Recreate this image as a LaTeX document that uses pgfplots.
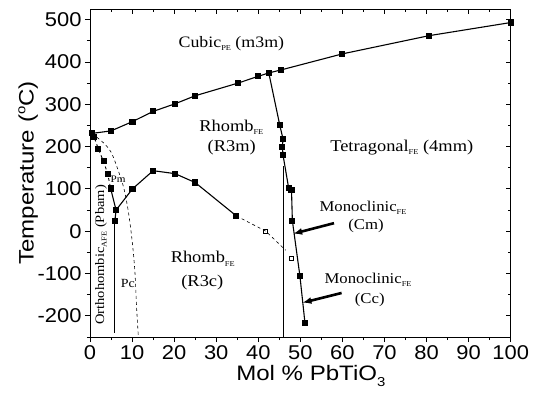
\documentclass[border=0pt]{standalone}
\usepackage{fontspec}
\setmainfont{Liberation Serif}[FakeStretch=1.12]
\newfontfamily\axfont[FakeStretch=1.1]{Liberation Sans}
\newfontfamily\labfont[FakeStretch=1.15]{Liberation Sans}
\usepackage{pgfplots}
\pgfplotsset{compat=1.18}
\usetikzlibrary{arrows.meta}
\newcommand{\sub}[1]{\raisebox{-0.45ex}{\fontsize{7.5}{7.5}\selectfont #1}}
\newcommand{\lab}[1]{\fontsize{#1}{#1}\selectfont}
\begin{document}
\begin{tikzpicture}
\pgfplotsset{
  common/.style={
    width=420.7bp, height=328bp, scale only axis,
    xmin=0, xmax=100, ymin=-250, ymax=525,
    xtick={0,10,...,100}, ytick={-200,-100,...,500},
    minor xtick={5,15,...,95}, minor ytick={-250,-150,...,450},
    major tick length=5bp, minor tick length=3bp,
    axis line style={line width=0.8bp},
    every tick/.style={black, line width=0.8bp},
    tick label style={font=\axfont\fontsize{20}{20}\selectfont},
    /pgf/number format/assume math mode=true,
  }
}
\begin{axis}[common, xtick pos=left, ytick pos=left, tick align=outside,
  clip=false,
  xlabel={\labfont\fontsize{21}{21}\selectfont Mol \% PbTiO\raisebox{-0.55ex}{\fontsize{13}{13}\selectfont 3}},
  xlabel style={at={(axis description cs:0.525,0)}, anchor=base, yshift=-43bp},
  ylabel={\labfont\fontsize{21}{21}\selectfont Temperature (\raisebox{0.75ex}{\fontsize{13}{13}\selectfont o}C)},
  ylabel style={at={(axis description cs:-0.147,0.5)}, anchor=center, rotate=0},
]
% Cubic boundary
\addplot[black, line width=1.1bp, mark=square*, mark size=2.5bp] coordinates {
 (0.4,231) (5,237) (10.1,259) (15,283) (20.2,301) (25,320) (35.2,350) (40,366) (42.5,374) (45.4,381) (60,419) (80.6,462) (100,493)};
% descending dashed series
\addplot[black, line width=0.9bp, dashed, mark=square*, mark size=2.5bp, mark options={solid}] coordinates {
 (0.4,231) (1,222) (2,194) (3.2,165) (4.2,136) (4.9,101)};
\addplot[black, line width=1.1bp, mark=square*, mark size=2.5bp] coordinates {
 (4.9,101) (6.2,50) (5.9,24)};
\addplot[black, line width=0.9bp] coordinates {(5.9,24) (5.9,-240)};
% lower curve
\addplot[black, line width=1.1bp, mark=square*, mark size=2.5bp] coordinates {
 (6.2,50) (10.1,100) (15,143) (20.2,136) (25,115) (34.8,36)};
\addplot[black, line width=0.6bp, dashed] coordinates {(34.8,36) (41.8,0) (46.5,-45)};
\addplot[black, only marks, mark=square, mark size=2bp, line width=0.8bp] coordinates {(41.8,0) (47.9,-65)};
% steep boundary
\addplot[black, line width=1.1bp, mark=square*, mark size=2.5bp] coordinates {
 (42.5,374) (45.1,251) (45.9,217) (45.7,200) (45.9,179) (47.2,103) (47.9,97) (48.1,25) (49.9,-106) (51.1,-217)};
% vertical MPB line
\addplot[black, line width=0.6bp] coordinates {(45.9,-250) (45.9,153)};
% dashed curve (Pc boundary)
\addplot[black, line width=0.6bp, dashed, smooth] coordinates {
 (0.5,230) (2,219) (3.6,205) (5,187) (6.3,155) (7.9,107) (8.8,65) (9.5,20) (10.2,-40) (10.7,-100) (11.1,-185) (11.5,-250)};
% labels
\node[anchor=base] at (axis cs:33.6,434) {\lab{16}Cubic\sub{PE} (m3m)};
\node[anchor=base] at (axis cs:33.6,236) {\lab{16.5}Rhomb\sub{FE}};
\node[anchor=base] at (axis cs:33.7,188.5) {\lab{16.5}(R3m)};
\node[anchor=base] at (axis cs:74.1,188.5) {\lab{16.5}Tetragonal\sub{FE} (4mm)};
\node[anchor=base] at (axis cs:6.7,114) {\lab{10}Pm};
\node[rotate=90, anchor=center] at (axis cs:2.6,-56) {\lab{13}Orthohombic\sub{AFE} (Pbam)};
\node[anchor=base] at (axis cs:9.0,-132) {\lab{12.5}Pc};
\node[anchor=base] at (axis cs:26.8,-75) {\lab{16.5}Rhomb\sub{FE}};
\node[anchor=base] at (axis cs:26.7,-131) {\lab{16.5}(R3c)};
\node[anchor=base] at (axis cs:64.9,46.6) {\lab{15}Monoclinic\sub{FE}};
\node[anchor=base] at (axis cs:65.6,3.3) {\lab{15}(Cm)};
\node[anchor=base] at (axis cs:66.1,-124) {\lab{15}Monoclinic\sub{FE}};
\node[anchor=base] at (axis cs:66.5,-170) {\lab{15}(Cc)};
\draw[black, line width=2.6bp, -{Latex[length=9bp,width=7bp]}] (axis cs:58,19) -- (axis cs:48.3,-6);
\draw[black, line width=2.6bp, -{Latex[length=9bp,width=7bp]}] (axis cs:59.8,-146) -- (axis cs:50.5,-169);
\end{axis}
\begin{axis}[common, xtick pos=right, ytick pos=right, tick align=inside,
  xticklabels={}, yticklabels={}]
\end{axis}
\pgfresetboundingbox
\path[use as bounding box] ([xshift=-90bp,yshift=-60bp]current axis.south west) rectangle ([xshift=26.3bp,yshift=9bp]current axis.north east);
\end{tikzpicture}
\end{document}
